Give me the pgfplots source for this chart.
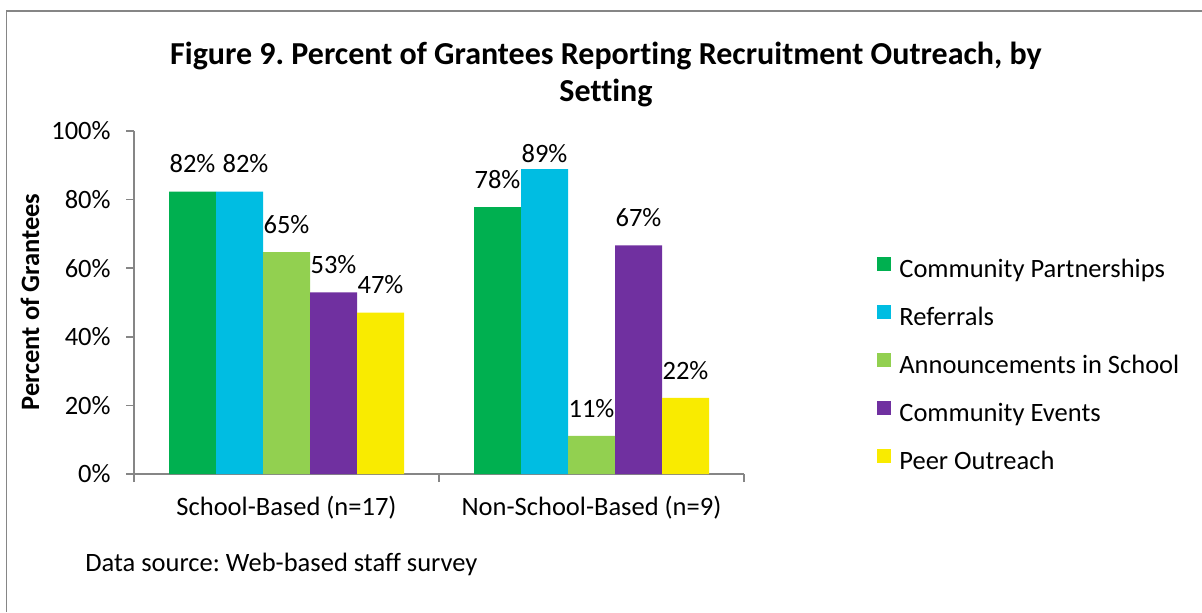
\documentclass[border=0pt]{standalone}
\usepackage{fontspec}
\setmainfont{Carlito}[Ligatures={NoCommon}]
\usepackage{pgfplots}
\pgfplotsset{compat=1.18}
\definecolor{cGreen}{HTML}{00B050}
\definecolor{cCyan}{HTML}{00BDE2}
\definecolor{cLGreen}{HTML}{92D050}
\definecolor{cPurple}{HTML}{7030A0}
\definecolor{cYellow}{HTML}{F9EB00}
\definecolor{axgray}{HTML}{868686}
\pgfplotsset{sq/.style={legend image code/.code={\fill[##1] (0pt,0.5pt) rectangle (7pt,7.5pt);}}}
\frenchspacing
\begin{document}
\frenchspacing
\begin{tikzpicture}[font=\fontsize{13.25}{16}\selectfont]
\path[use as bounding box] (0,0) rectangle (601pt,306pt);
\draw[axgray, line width=0.75pt] (3.25pt,0) -- (3.25pt,300.5pt) -- (601pt,300.5pt);
\node[font=\bfseries\fontsize{16}{19.5}\selectfont, anchor=base] at (303pt,273.5pt) {Figure 9. Percent of Grantees Reporting Recruitment Outreach, by};
\node[font=\bfseries\fontsize{16}{19.5}\selectfont, anchor=base] at (303pt,255pt) {Setting};
\node[font=\bfseries\fontsize{13.25}{16}\selectfont, rotate=90, anchor=center] at (15pt,155pt) {Percent of Grantees};
\node[anchor=west, inner sep=0pt] at (42.5pt,24pt) {Data source: Web-based staff survey};
\begin{axis}[
  at={(67pt,69pt)}, anchor=south west,
  scale only axis, width=305pt, height=171.5pt,
  xmin=-0.5, xmax=1.5, ymin=0, ymax=100,
  ybar=0pt, bar width=23.5pt,
  axis x line*=bottom, axis y line*=left,
  axis line style={axgray, line width=0.75pt},
  /pgf/number format/assume math mode=true,
  ytick={0,20,40,60,80,100},
  yticklabel={\pgfmathprintnumber{\tick}\%},
  yticklabel style={inner sep=0pt, xshift=-7.5pt},
  tick align=outside, major tick length=4pt,
  tick style={axgray, line width=0.75pt},
  ytick style={axgray, line width=0.75pt},
  xtick={0,1},
  xticklabels={School-Based (n=17), Non-School-Based (n=9)},
  xtick style={draw=none},
  xticklabel style={yshift=-3.5pt},
  extra x ticks={-0.5,0.5,1.5},
  extra x tick labels={},
  extra x tick style={xtick style={draw=axgray, line width=0.75pt}},
  tick label style={font=\fontsize{13.25}{16}\selectfont},
  visualization depends on={y \as \rawy},
  visualization depends on={x \as \rawx},
  nodes near coords={\pgfmathprintnumber[fixed,precision=0]{\pgfplotspointmeta}\%},
  every node near coord/.append style={font=\fontsize{13.25}{16}\selectfont, inner sep=0pt, anchor=south, yshift={9pt-6pt*(\rawy>85)}, text=black},
  legend style={draw=none, fill=none, at={(1.218,0.3147)}, anchor=west,
    row sep=10.5pt, column sep=4pt, inner sep=0pt,
    nodes={inner sep=0pt, text height=9pt, text depth=3pt},
    font=\fontsize{13.25}{16}\selectfont},
  legend cell align=left,
  clip=false,
]
\addplot[fill=cGreen, draw=none, sq] coordinates {(0,82.35) (1,77.78)};
\addplot[fill=cCyan, draw=none, sq, every node near coord/.append style={xshift={3pt*(\rawx<0.5)}}] coordinates {(0,82.35) (1,88.89)};
\addplot[fill=cLGreen, draw=none, sq] coordinates {(0,64.71) (1,11.11)};
\addplot[fill=cPurple, draw=none, sq] coordinates {(0,52.94) (1,66.67)};
\addplot[fill=cYellow, draw=none, sq] coordinates {(0,47.06) (1,22.22)};
\legend{Community Partnerships, Referrals, Announcements in School, Community Events, Peer Outreach}
\end{axis}
\end{tikzpicture}
\end{document}
